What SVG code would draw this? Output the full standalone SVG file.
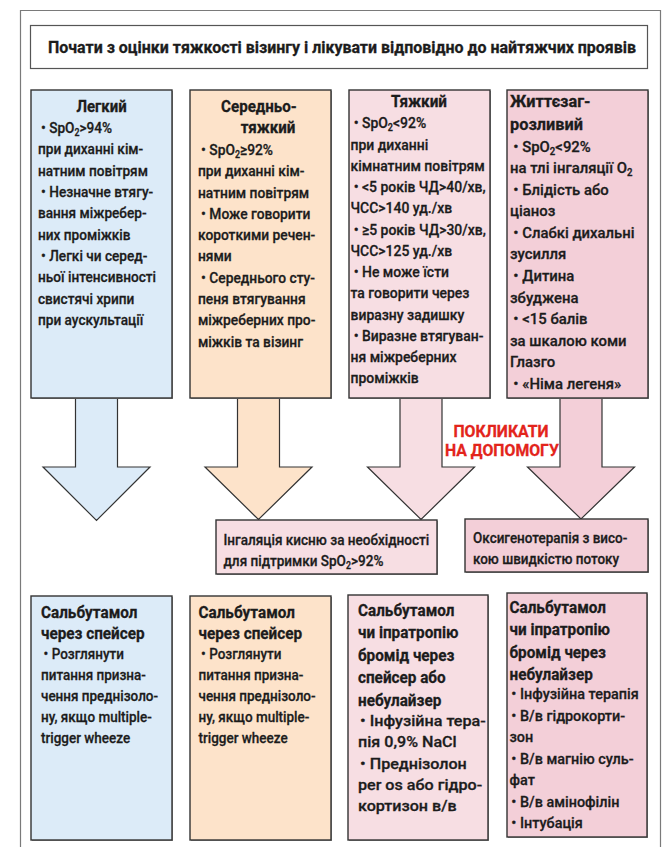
<svg xmlns="http://www.w3.org/2000/svg" width="666" height="847" viewBox="0 0 666 847">
<style>
.t{font-family:Roboto,"Liberation Sans",sans-serif;font-size:15.5px;font-weight:500;fill:#1c1c1c;stroke:#1c1c1c;stroke-width:0.3}
.h{font-weight:700;font-size:17px}
.c{text-anchor:middle}
.box{stroke:#333;stroke-width:1.4}
.sh{fill:#9a9a9a}
.arr{stroke:#333;stroke-width:1.2;stroke-linejoin:miter}
.blue{fill:#dcebf8}
.peach{fill:#fde3ca}
.pink{fill:#f7dee3}
.rose{fill:#f3cfd8}
.red{fill:#e3241b;stroke:#e3241b;font-weight:700;font-size:17px}
</style>
<rect width="666" height="847" fill="#ffffff"/>
<path d="M20.5 847 V10.5 H660.5 V847" fill="none" stroke="#7a7a7a" stroke-width="1.2"/>

<g id="n-title">
<rect x="30.5" y="25.5" width="617" height="43" fill="#ffffff" stroke="#555" stroke-width="1.2"/>
<text class="t c" style="font-weight:700;font-size:16px" x="342" y="53" textLength="588" lengthAdjust="spacingAndGlyphs">Почати з оцінки тяжкості візингу і лікувати відповідно до найтяжчих проявів</text>
</g>

<g id="connectors">
<polygon class="arr blue" points="75.5,397 75.5,467 43,467 96.5,520.5 150,467 117.5,467 117.5,397"/>
<polygon class="arr peach" points="237.5,397 237.5,467 205,467 258.5,519.5 312,467 279.5,467 279.5,397"/>
<polygon class="arr pink" points="400,397 400,467 367.5,467 421,519.5 474.5,467 442,467 442,397"/>
<polygon class="arr rose" points="560,397 560,467 527.5,467 581,519 634.5,467 602,467 602,397"/>
<g transform="translate(501 0) scale(0.93 1)">
<text class="t red c" x="0" y="437">ПОКЛИКАТИ</text>
<text class="t red c" x="1" y="456">НА ДОПОМОГУ</text>
</g>
</g>

<g id="n-mild">
<rect class="sh" x="32" y="91" width="141" height="308"/>
<rect class="box blue" x="31" y="90" width="141" height="308"/>
<g transform="translate(38 0) scale(0.88 1)">
<text class="t h c" x="72.2" y="112">Легкий</text>
<text class="t" x="3.5" y="133">• SpO<tspan font-size="10" dy="3">2</tspan><tspan dy="-3">&gt;94%</tspan></text>
<text class="t" x="0" y="154.5">при диханні кім-</text>
<text class="t" x="0" y="176">натним повітрям</text>
<text class="t" x="3.5" y="197">• Незначне втягу-</text>
<text class="t" x="0" y="218.5">вання міжребер-</text>
<text class="t" x="0" y="240">них проміжків</text>
<text class="t" x="3.5" y="261">• Легкі чи серед-</text>
<text class="t" x="0" y="282.5">ньої інтенсивності</text>
<text class="t" x="0" y="304">свистячі хрипи</text>
<text class="t" x="0" y="325">при аускультації</text>
</g>
</g>

<g id="n-moderate">
<rect class="sh" x="191" y="91" width="141" height="308"/>
<rect class="box peach" x="190" y="90" width="141" height="308"/>
<g transform="translate(198 0) scale(0.89 1)">
<text class="t h c" x="68.5" y="112">Середньо-</text>
<text class="t h c" x="78.7" y="133">тяжкий</text>
<text class="t" x="3.5" y="155">• SpO<tspan font-size="10" dy="3">2</tspan><tspan dy="-3">≥92%</tspan></text>
<text class="t" x="0" y="176.3">при диханні кім-</text>
<text class="t" x="0" y="197.6">натним повітрям</text>
<text class="t" x="3.5" y="218.9">• Може говорити</text>
<text class="t" x="0" y="240.2">короткими речен-</text>
<text class="t" x="0" y="261.5">нями</text>
<text class="t" x="3.5" y="282.8">• Середнього сту-</text>
<text class="t" x="0" y="304.1">пеня втягування</text>
<text class="t" x="0" y="325.4">міжреберних про-</text>
<text class="t" x="0" y="346.7">міжків та візинг</text>
</g>
</g>

<g id="n-severe">
<rect class="sh" x="350" y="91" width="141" height="308"/>
<rect class="box pink" x="349" y="90" width="141" height="308"/>
<g transform="translate(350.5 0) scale(0.9 1)">
<text class="t h c" x="76.1" y="107">Тяжкий</text>
<text class="t" x="3.5" y="128.5">• SpO<tspan font-size="10" dy="3">2</tspan><tspan dy="-3">&lt;92%</tspan></text>
<text class="t" x="0" y="150">при диханні</text>
<text class="t" x="0" y="171">кімнатним повітрям</text>
<text class="t" x="3.5" y="192.5">• &lt;5 років ЧД&gt;40/хв,</text>
<text class="t" x="0" y="213.5">ЧСС&gt;140 уд./хв</text>
<text class="t" x="3.5" y="235">• ≥5 років ЧД&gt;30/хв,</text>
<text class="t" x="0" y="256">ЧСС&gt;125 уд./хв</text>
<text class="t" x="3.5" y="277.5">• Не може їсти</text>
<text class="t" x="0" y="298.5">та говорити через</text>
<text class="t" x="0" y="320">виразну задишку</text>
<text class="t" x="3.5" y="341">• Виразне втягуван-</text>
<text class="t" x="0" y="362">ня міжреберних</text>
<text class="t" x="0" y="383">проміжків</text>
</g>
</g>

<g id="n-life">
<rect class="sh" x="508" y="91" width="141" height="308"/>
<rect class="box rose" x="507" y="90" width="141" height="308"/>
<g transform="translate(510 0) scale(0.96 1)">
<text class="t h" x="0" y="107.5">Життєзаг-</text>
<text class="t h" x="0" y="130">розливий</text>
<text class="t" x="3.5" y="151.6">• SpO<tspan font-size="10" dy="3">2</tspan><tspan dy="-3">&lt;92%</tspan></text>
<text class="t" x="0" y="173.2">на тлі інгаляції O<tspan font-size="10" dy="3">2</tspan></text>
<text class="t" x="3.5" y="194.7">• Блідість або</text>
<text class="t" x="0" y="216.3">ціаноз</text>
<text class="t" x="3.5" y="237.9">• Слабкі дихальні</text>
<text class="t" x="0" y="259.5">зусилля</text>
<text class="t" x="3.5" y="281.1">• Дитина</text>
<text class="t" x="0" y="302.7">збуджена</text>
<text class="t" x="3.5" y="324.2">• &lt;15 балів</text>
<text class="t" x="0" y="345.8">за шкалою коми</text>
<text class="t" x="0" y="367.4">Глазго</text>
<text class="t" x="3.5" y="389">• «Німа легеня»</text>
</g>
</g>

<g id="n-oxygen">
<rect class="sh" x="217" y="521" width="221" height="54"/>
<rect class="box pink" x="216" y="520" width="221" height="54"/>
<g transform="translate(223.5 0) scale(0.875 1)">
<text class="t" x="0" y="545">Інгаляція кисню за необхідності</text>
<text class="t" x="0" y="566">для підтримки SpO<tspan font-size="10" dy="3">2</tspan><tspan dy="-3">&gt;92%</tspan></text>
</g>
</g>

<g id="n-hfo">
<rect class="sh" x="466" y="520" width="183" height="53"/>
<rect class="box rose" x="465" y="519" width="183" height="53"/>
<g transform="translate(473 0) scale(0.87 1)">
<text class="t" x="0" y="543">Оксигенотерапія з висо-</text>
<text class="t" x="0" y="564">кою швидкістю потоку</text>
</g>
</g>

<g id="n-tx-mild">
<rect class="sh" x="32" y="597" width="141" height="244"/>
<rect class="box blue" x="31" y="596" width="141" height="244"/>
<g transform="translate(41 0) scale(0.9 1)">
<text class="t h" x="0" y="618">Сальбутамол</text>
<text class="t h" x="0" y="639">через спейсер</text>
</g>
<g transform="translate(41 0) scale(0.87 1)">
<text class="t" x="3" y="659.5">• Розглянути</text>
<text class="t" x="0" y="680">питання призна-</text>
<text class="t" x="0" y="701">чення преднізоло-</text>
<text class="t" x="0" y="722">ну, якщо multiple-</text>
<text class="t" x="0" y="743">trigger wheeze</text>
</g>
</g>

<g id="n-tx-moderate">
<rect class="sh" x="191" y="597" width="141" height="244"/>
<rect class="box peach" x="190" y="596" width="141" height="244"/>
<g transform="translate(198.5 0) scale(0.9 1)">
<text class="t h" x="0" y="618">Сальбутамол</text>
<text class="t h" x="0" y="639">через спейсер</text>
</g>
<g transform="translate(198.5 0) scale(0.87 1)">
<text class="t" x="3" y="659.5">• Розглянути</text>
<text class="t" x="0" y="680">питання призна-</text>
<text class="t" x="0" y="701">чення преднізоло-</text>
<text class="t" x="0" y="722">ну, якщо multiple-</text>
<text class="t" x="0" y="743">trigger wheeze</text>
</g>
</g>

<g id="n-tx-severe">
<rect class="sh" x="349" y="596" width="140" height="245"/>
<rect class="box pink" x="348" y="595" width="140" height="245"/>
<g transform="translate(358 0) scale(0.9 1)">
<text class="t h" x="0" y="616">Сальбутамол</text>
<text class="t h" x="0" y="638.5">чи іпратропію</text>
<text class="t h" x="0" y="661">бромід через</text>
<text class="t h" x="0" y="683.5">спейсер або</text>
<text class="t h" x="0" y="706">небулайзер</text>
</g>
<g transform="translate(358 0) scale(1.04 1)">
<text class="t" x="2" y="726">• Інфузійна тера-</text>
<text class="t" x="0" y="747.5">пія 0,9% NaCl</text>
<text class="t" x="2" y="769">• Преднізолон</text>
<text class="t" x="0" y="790">per os або гідро-</text>
<text class="t" x="0" y="811">кортизон в/в</text>
</g>
</g>

<g id="n-tx-life">
<rect class="sh" x="508" y="594" width="140" height="244"/>
<rect class="box rose" x="507" y="593" width="140" height="244"/>
<g transform="translate(509.5 0) scale(0.9 1)">
<text class="t h" x="0" y="613">Сальбутамол</text>
<text class="t h" x="0" y="635.5">чи іпратропію</text>
<text class="t h" x="0" y="658">бромід через</text>
<text class="t h" x="0" y="680.5">небулайзер</text>
</g>
<g transform="translate(509.5 0) scale(0.93 1)">
<text class="t" x="2" y="699.5">• Інфузійна терапія</text>
<text class="t" x="2" y="721">• В/в гідрокорти-</text>
<text class="t" x="0" y="742.5">зон</text>
<text class="t" x="2" y="764">• В/в магнію суль-</text>
<text class="t" x="0" y="785.5">фат</text>
<text class="t" x="2" y="807">• В/в амінофілін</text>
<text class="t" x="2" y="828.5">• Інтубація</text>
</g>
</g>
</svg>
